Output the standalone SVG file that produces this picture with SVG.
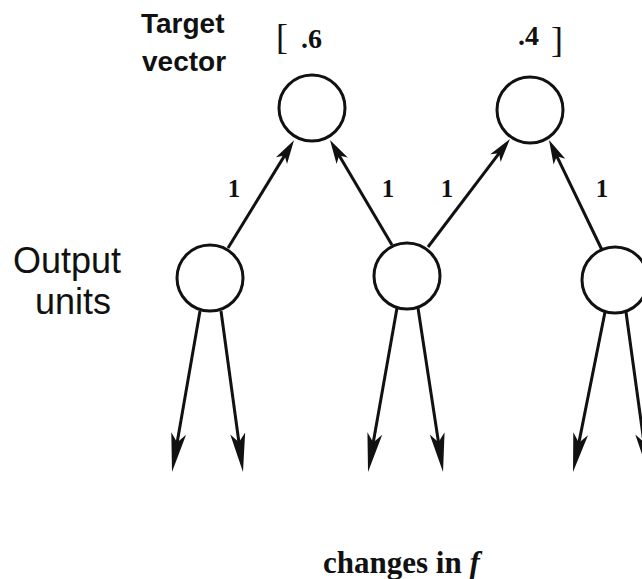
<svg xmlns="http://www.w3.org/2000/svg" width="642" height="579" viewBox="0 0 642 579">
  <style>
    .node { fill: #ffffff; stroke: #111111; stroke-width: 3; }
    .edge { stroke: #111111; stroke-width: 3; fill: none; }
    .sans { font-family: "Liberation Sans", Arial, sans-serif; fill: #111111; }
    .serif { font-family: "Liberation Serif", "Times New Roman", serif; fill: #111111; }
    .w { font-family: "Liberation Serif", "Times New Roman", serif; font-weight: bold; font-size: 25px; fill: #111111; text-anchor: middle; }
  </style>
  <defs>
    <marker id="headUp" markerUnits="userSpaceOnUse" viewBox="-12 -8 28 16" refX="0" refY="0" markerWidth="28" markerHeight="16" orient="auto" overflow="visible">
      <path d="M14,0 L-10,-6.5 L-4,0 L-10,6.5 Z" fill="#111111"/>
    </marker>
    <marker id="headDown" markerUnits="userSpaceOnUse" viewBox="-14 -9 44 18" refX="0" refY="0" markerWidth="44" markerHeight="18" orient="auto" overflow="visible">
      <path d="M28,0 L-11,-7.5 L-2,0 L-11,7.5 Z" fill="#111111"/>
    </marker>
  </defs>

  <rect width="642" height="579" fill="#ffffff"/>

  <g id="connectors">
    <line class="edge" x1="228" y1="248" x2="286.7" y2="152.1" marker-end="url(#headUp)"/>
    <line class="edge" x1="392" y1="245" x2="337.1" y2="152.1" marker-end="url(#headUp)"/>
    <line class="edge" x1="428" y1="247" x2="501.5" y2="150.1" marker-end="url(#headUp)"/>
    <line class="edge" x1="602" y1="250" x2="555.1" y2="152.6" marker-end="url(#headUp)"/>

    <line class="edge" x1="200" y1="311" x2="176.8" y2="444.4" marker-end="url(#headDown)"/>
    <line class="edge" x1="221" y1="311" x2="239.2" y2="444.3" marker-end="url(#headDown)"/>
    <line class="edge" x1="397" y1="308" x2="372.9" y2="444.4" marker-end="url(#headDown)"/>
    <line class="edge" x1="418" y1="308" x2="438.8" y2="444.3" marker-end="url(#headDown)"/>
    <line class="edge" x1="605" y1="312" x2="578.5" y2="444.6" marker-end="url(#headDown)"/>
    <line class="edge" x1="626" y1="312" x2="644.2" y2="444.3" marker-end="url(#headDown)"/>

    <text class="w" x="234" y="197">1</text>
    <text class="w" x="388" y="197">1</text>
    <text class="w" x="447" y="197">1</text>
    <text class="w" x="602" y="197">1</text>
  </g>

  <g id="target1"><circle class="node" cx="312" cy="108" r="33"/></g>
  <g id="target2"><circle class="node" cx="530" cy="110" r="33"/></g>
  <g id="output1"><circle class="node" cx="210" cy="278" r="33"/></g>
  <g id="output2"><circle class="node" cx="407" cy="276" r="33"/></g>
  <g id="output3"><circle class="node" cx="615" cy="280" r="33"/></g>

  <g id="labels">
    <text class="sans" x="141" y="33" font-size="28" font-weight="bold">Target</text>
    <text class="sans" x="142" y="71" font-size="28" font-weight="bold">vector</text>
    <text class="serif" x="276" y="49" font-size="36">[</text>
    <text class="serif" x="301" y="48" font-size="28" font-weight="bold">.6</text>
    <text class="serif" x="518" y="45" font-size="28" font-weight="bold">.4</text>
    <text class="serif" x="551" y="52" font-size="36">]</text>
    <text class="sans" x="13" y="273" font-size="36">Output</text>
    <text class="sans" x="35" y="314" font-size="36">units</text>
    <text class="serif" x="323" y="573" font-size="31" font-weight="bold">changes in <tspan font-style="italic">f</tspan></text>
  </g>
</svg>
